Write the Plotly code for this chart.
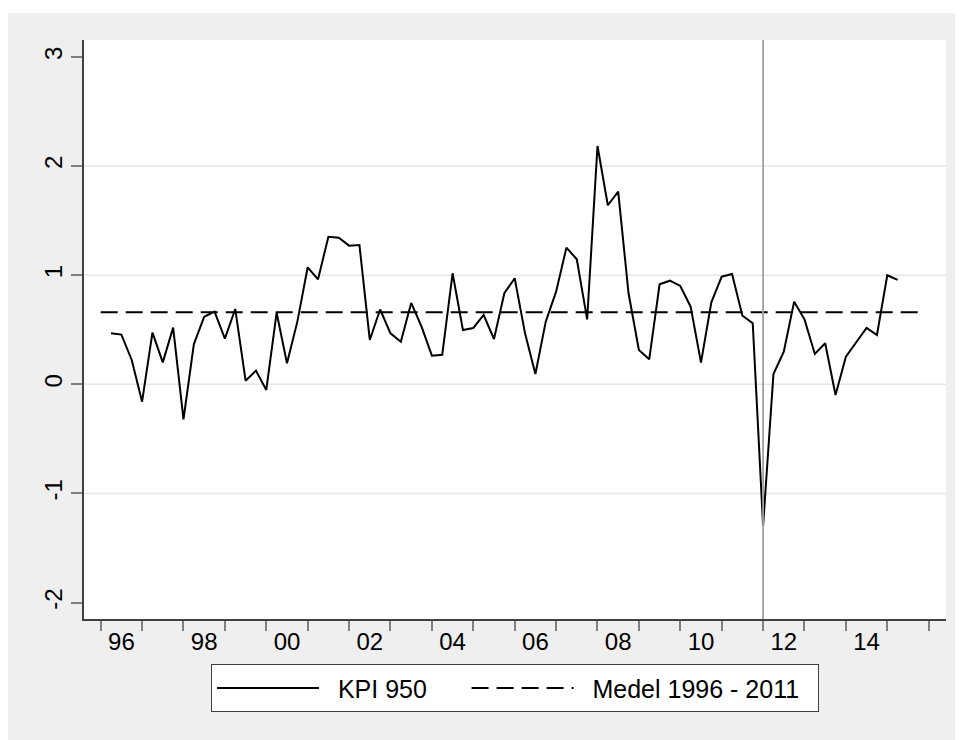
import pandas as pd
import plotly.graph_objects as go

# ---- data ----
KPI_START = "1996Q2"
KPI_VALUES = [
    0.467, 0.455, 0.223, -0.159, 0.473, 0.201, 0.519, -0.321, 0.366, 0.619,
    0.665, 0.418, 0.690, 0.033, 0.125, -0.052, 0.656, 0.192, 0.574, 1.072,
    0.962, 1.352, 1.343, 1.270, 1.276, 0.406, 0.685, 0.467, 0.390, 0.745,
    0.528, 0.262, 0.271, 1.017, 0.497, 0.516, 0.635, 0.415, 0.834, 0.971,
    0.467, 0.094, 0.574, 0.849, 1.252, 1.145, 0.595, 2.183, 1.640, 1.765,
    0.834, 0.314, 0.229, 0.916, 0.949, 0.901, 0.711, 0.198, 0.751, 0.986,
    1.010, 0.629, 0.559, -1.298, 0.094, 0.299, 0.757, 0.595, 0.278, 0.376,
    -0.098, 0.253, 0.385, 0.516, 0.452, 0.999, 0.956,
]
MEAN_PERIOD = ["1996Q1", "2015Q4"]
MEAN_VALUE = 0.66
VLINE_PERIOD = "2012Q1"

Y_TICKS = [-2, -1, 0, 1, 2, 3]
Y_GRID = [-1, 0, 1, 2]
YEAR_TICKS = list(range(1996, 2017))
X_LABEL_YEARS = [1996, 1998, 2000, 2002, 2004, 2006, 2008, 2010, 2012, 2014]
X_LABELS = ["96", "98", "00", "02", "04", "06", "08", "10", "12", "14"]

SERIES_NAMES = ["KPI 950", "Medel 1996 - 2011"]

NB = "\u00a0"


def qpos(p):
    p = pd.Period(p, freq="Q")
    return p.year + (p.quarter - 1) / 4


kpi_periods = pd.period_range(KPI_START, periods=len(KPI_VALUES), freq="Q")
kpi_x = [qpos(p) for p in kpi_periods]
mean_x = [qpos(p) for p in MEAN_PERIOD]
mean_y = [MEAN_VALUE] * len(mean_x)

FONT = "Liberation Sans, Arial, sans-serif"

fig = go.Figure()
fig.add_trace(go.Scatter(
    x=kpi_x, y=KPI_VALUES, mode="lines",
    name=NB * 2 + SERIES_NAMES[0] + NB * 5,
    line=dict(color="#000000", width=2),
))
fig.add_trace(go.Scatter(
    x=mean_x, y=mean_y, mode="lines",
    name=NB * 2 + SERIES_NAMES[1] + NB * 2,
    line=dict(color="#000000", width=2, dash="17px,8px"),
))

for v in Y_GRID:
    fig.add_hline(y=v, line=dict(color="#e6e6e6", width=1.5), layer="below")

fig.add_vline(x=qpos(VLINE_PERIOD), line=dict(color="#a0a0a0", width=1.8), layer="above")

# thin white strip at the very top (figure frame styling)
fig.add_shape(type="rect", xref="paper", yref="paper", x0=-0.2, x1=1.2,
              y0=1.0466, y1=1.2, fillcolor="white", line=dict(width=0), layer="below")

fig.update_layout(
    width=963, height=740,
    margin=dict(l=76, r=25, t=32, b=129),
    paper_bgcolor="#efefef",
    plot_bgcolor="#ffffff",
    font=dict(family=FONT, size=24, color="#000000"),
    showlegend=True,
    legend=dict(
        orientation="h", x=0.5, xanchor="center", y=-0.078, yanchor="top",
        bgcolor="#ffffff", bordercolor="#404040", borderwidth=1,
        font=dict(family=FONT, size=25, color="#000000"),
        itemwidth=102,
    ),
    xaxis=dict(
        range=[1995.597, 2016.418],
        tickmode="array", tickvals=[y + 0.5 for y in X_LABEL_YEARS], ticktext=X_LABELS,
        ticks="", showgrid=False, zeroline=False,
        showline=True, linecolor="#404040", linewidth=1.5,
        tickfont=dict(family=FONT, size=24, color="#000000"),
        minor=dict(tickmode="array", tickvals=YEAR_TICKS, ticks="outside",
                   ticklen=10, tickcolor="#808080", tickwidth=1.5, showgrid=False),
    ),
    yaxis=dict(
        range=[-2.150, 3.154],
        tickmode="array", tickvals=Y_TICKS, ticktext=[str(v) for v in Y_TICKS],
        ticks="outside", ticklen=11, tickcolor="#808080", tickwidth=1.5,
        tickangle=-90,
        showgrid=False, zeroline=False,
        showline=True, linecolor="#404040", linewidth=1.5,
        tickfont=dict(family=FONT, size=24, color="#000000"),
    ),
)

fig.write_html("out.html")
